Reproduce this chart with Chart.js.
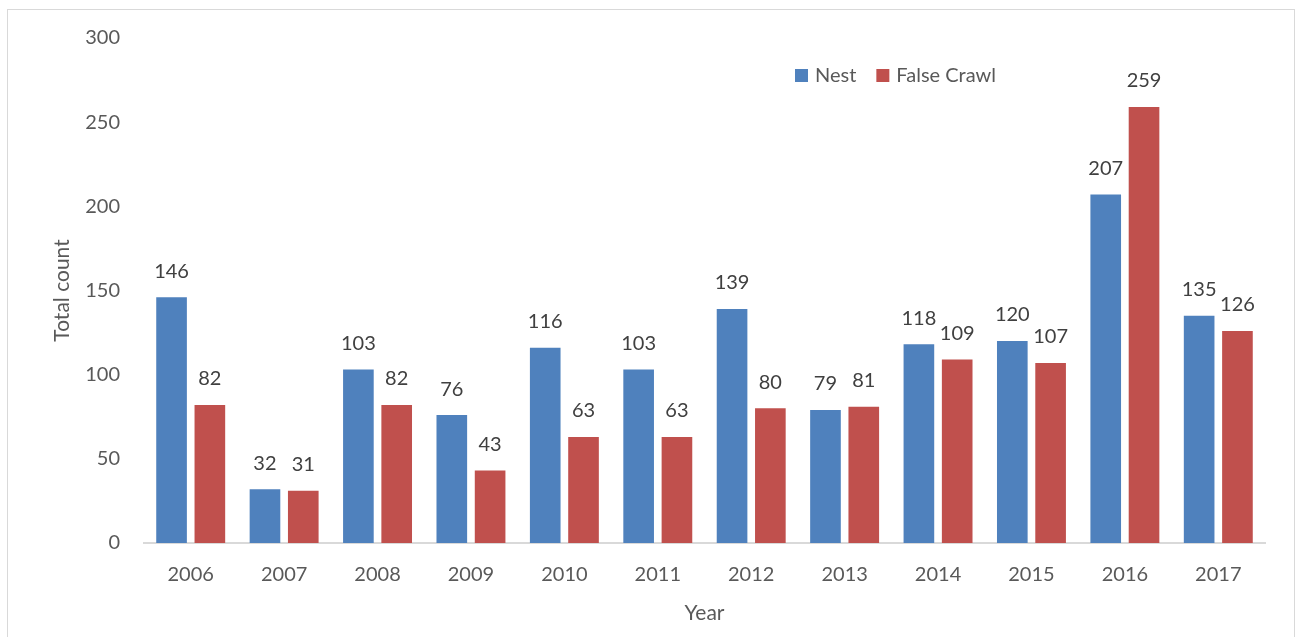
<!DOCTYPE html>
<html>
<head>
<meta charset="utf-8">
<script src="https://cdn.jsdelivr.net/npm/chart.js@4/dist/chart.umd.min.js"></script>
<style>
  html, body { margin: 0; padding: 0; background: #fff; overflow: hidden; }
  #frame { position: absolute; left: 7px; top: 9px; width: 1286px; height: 640px; border: 1px solid #d9d9d9; }
  #wrap { position: absolute; left: 0; top: 0; width: 1295px; height: 637px; }
</style>
</head>
<body>
<div id="frame"></div>
<div id="wrap"><canvas id="c" width="1295" height="637"></canvas></div>
<script>
const years = ['2006','2007','2008','2009','2010','2011','2012','2013','2014','2015','2016','2017'];
const nest = [146, 32, 103, 76, 116, 103, 139, 79, 118, 120, 207, 135];
const falseCrawl = [82, 31, 82, 43, 63, 63, 80, 81, 109, 107, 259, 126];
const yTicks = [0, 50, 100, 150, 200, 250, 300];

const FONT = 'Lato, "Open Sans", sans-serif';
const AREA = { left: 144, right: 1265, top: 38, bottom: 543 };

// value labels above every bar
const valueLabels = {
  id: 'valueLabels',
  afterDatasetsDraw(chart) {
    const ctx = chart.ctx;
    ctx.save();
    ctx.font = '20px ' + FONT;
    ctx.fillStyle = '#404040';
    ctx.textAlign = 'center';
    ctx.textBaseline = 'middle';
    chart.data.datasets.forEach((ds, di) => {
      chart.getDatasetMeta(di).data.forEach((bar, i) => {
        ctx.fillText(String(ds.data[i]), bar.x, bar.y - 26);
      });
    });
    ctx.restore();
  }
};

// legend drawn inside the plot area, upper right
const innerLegend = {
  id: 'innerLegend',
  afterDraw(chart) {
    const ctx = chart.ctx;
    ctx.save();
    ctx.font = '20px ' + FONT;
    ctx.textBaseline = 'middle';
    ctx.textAlign = 'left';
    let x = 795;
    const y = 76;
    chart.data.datasets.forEach((ds) => {
      ctx.fillStyle = ds.backgroundColor;
      ctx.fillRect(x, y - 7, 13, 13);
      ctx.fillStyle = '#595959';
      ctx.fillText(ds.label, x + 20, y);
      x += 20 + ctx.measureText(ds.label).width + 20;
    });
    ctx.restore();
  }
};

new Chart(document.getElementById('c'), {
  type: 'bar',
  data: {
    labels: years,
    datasets: [
      { label: 'Nest', data: nest, backgroundColor: '#4F81BD' },
      { label: 'False Crawl', data: falseCrawl, backgroundColor: '#C0504D' }
    ]
  },
  options: {
    responsive: false,
    animation: false,
    events: [],
    layout: { padding: { left: 0, right: 1295 - AREA.right, top: AREA.top, bottom: 0 } },
    datasets: { bar: { categoryPercentage: 0.82, barPercentage: 0.8 } },
    plugins: { legend: { display: false }, tooltip: { enabled: false } },
    scales: {
      x: {
        grid: { display: false, drawTicks: false },
        border: { display: true, color: '#d9d9d9', width: 2 },
        ticks: { color: '#595959', font: { family: FONT, size: 20 }, padding: 20 },
        title: { display: true, text: 'Year', color: '#595959', font: { family: FONT, size: 21 }, padding: { top: 8, bottom: 11 } },
        afterFit(scale) { scale.height = 637 - AREA.bottom; }
      },
      y: {
        min: 0, max: 300,
        afterBuildTicks(scale) { scale.ticks = yTicks.map(v => ({ value: v })); },
        grid: { display: false, drawTicks: false },
        border: { display: false },
        ticks: { color: '#595959', font: { family: FONT, size: 20 }, padding: 24 },
        title: { display: true, text: 'Total count', color: '#595959', font: { family: FONT, size: 21 }, padding: { top: 50, bottom: 0 } },
        afterFit(scale) { scale.width = AREA.left; }
      }
    }
  },
  plugins: [valueLabels, innerLegend]
});
</script>
</body>
</html>
